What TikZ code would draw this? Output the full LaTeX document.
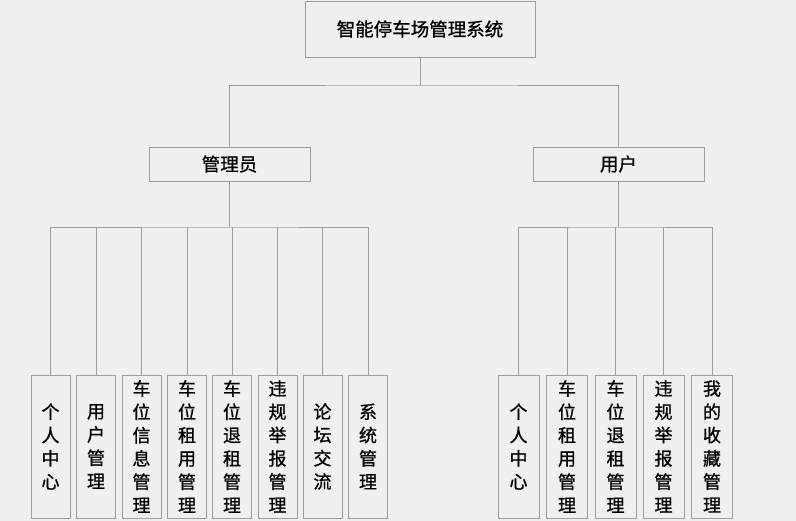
\documentclass[tikz,border=0pt]{standalone}
\usepackage{fontspec}
\newfontfamily\cjk[FakeBold=1]{Noto Sans CJK SC}
\begin{document}
\begin{tikzpicture}[x=1pt,y=-1pt,
  lin/.style={draw=black!38,line width=0.9pt},
  boxa/.style={lin,fill=white!94!black,inner sep=0pt,anchor=center},
  topbox/.style={boxa,minimum width=230pt,minimum height=56pt,font=\cjk\fontsize{18.5}{22}\selectfont},
  midbox/.style={boxa,minimum height=34pt,font=\cjk\fontsize{18.5}{22}\selectfont},
  leafa/.style={boxa,minimum width=39pt,minimum height=143pt,align=center,font=\cjk\fontsize{18}{23.3}\selectfont},
  leafb/.style={leafa,minimum width=41pt}]
\fill[white!94!black] (0,0) rectangle (796,521);
\useasboundingbox (0,0) rectangle (796,521);
\node[topbox] (root) at (420,29) {智能停车场管理系统};
\node[midbox,minimum width=161pt] (admin) at (229.5,164) {管理员};
\node[midbox,minimum width=171pt] (user) at (618.5,164) {用户};
\coordinate (bus1) at (420,85);
\coordinate (bus2) at (229.5,227);
\coordinate (bus3) at (618.5,227);
% admin leaves
\node[leafa] (a1) at (50.5,446.5) {个\\人\\中\\心};
\node[leafa] (a2) at (96,446.5) {用\\户\\管\\理};
\node[leafa] (a3) at (141.5,446.5) {车\\位\\信\\息\\管\\理};
\node[leafa] (a4) at (187,446.5) {车\\位\\租\\用\\管\\理};
\node[leafa] (a5) at (232,446.5) {车\\位\\退\\租\\管\\理};
\node[leafa] (a6) at (277.5,446.5) {违\\规\\举\\报\\管\\理};
\node[leafa] (a7) at (322.5,446.5) {论\\坛\\交\\流};
\node[leafa] (a8) at (368,446.5) {系\\统\\管\\理};
% user leaves
\node[leafb] (u1) at (518.5,446.5) {个\\人\\中\\心};
\node[leafb] (u2) at (567,446.5) {车\\位\\租\\用\\管\\理};
\node[leafb] (u3) at (615.5,446.5) {车\\位\\退\\租\\管\\理};
\node[leafb] (u4) at (663.5,446.5) {违\\规\\举\\报\\管\\理};
\node[leafb] (u5) at (712,446.5) {我\\的\\收\\藏\\管\\理};
% connectors
\draw[lin] (root.south) -- (bus1);
\draw[lin] (admin.north) |- (bus1) -| (user.north);
\draw[lin] (admin.south) -- (bus2);
\draw[lin] (a1.north) |- (bus2) -| (a8.north);
\foreach \n in {a2,a3,a4,a5,a6,a7}{\draw[lin] (\n.north) -- (\n.north |- bus2);}
\draw[lin] (user.south) -- (bus3);
\draw[lin] (u1.north) |- (bus3) -| (u5.north);
\foreach \n in {u2,u3,u4}{\draw[lin] (\n.north) -- (\n.north |- bus3);}
\end{tikzpicture}
\end{document}
